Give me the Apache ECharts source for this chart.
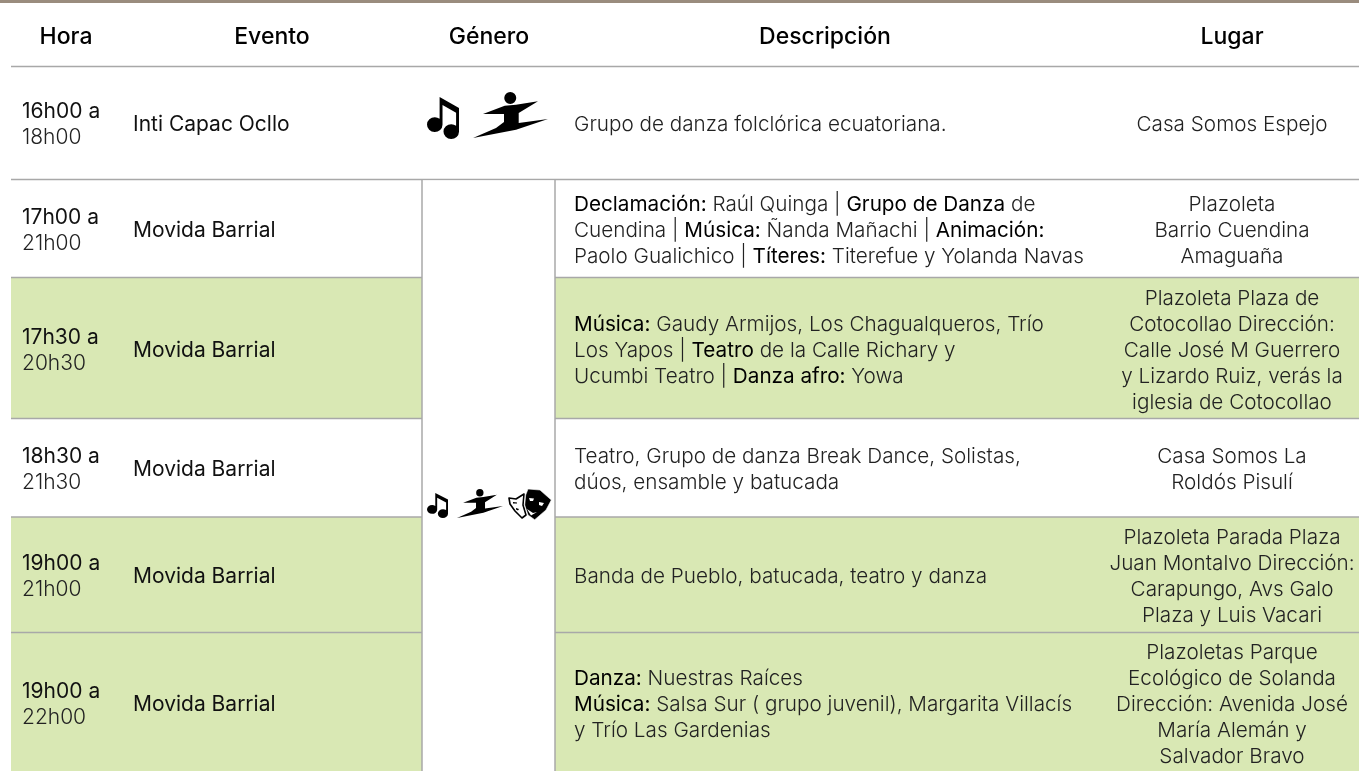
<!DOCTYPE html>
<html><head><meta charset="utf-8">
<script src="https://cdn.jsdelivr.net/npm/echarts@6/dist/echarts.min.js"></script>
<style>html,body{margin:0;padding:0;background:#fff}#c{width:1359px;height:771px}</style>
</head><body><div id="c"></div>
<script>
const headers = ['Hora','Evento','Género','Descripción','Lugar'];
const hourStart = ['16h00 a','17h00 a','17h30 a','18h30 a','19h00 a','19h00 a'];
const hourEnd = ['18h00','21h00','20h30','21h30','21h00','22h00'];
const events = ['Inti Capac Ocllo','Movida Barrial','Movida Barrial','Movida Barrial','Movida Barrial','Movida Barrial'];
const shaded = [0,0,1,0,1,1];
const descriptions = [
 ['Grupo de danza folclórica ecuatoriana.'],
 ['{b|Declamación:} Raúl Quinga | {b|Grupo de Danza} de','Cuendina | {b|Música:} Ñanda Mañachi | {b|Animación:}','Paolo Gualichico | {b|Títeres:} Titerefue y Yolanda Navas'],
 ['{b|Música:} Gaudy Armijos, Los Chagualqueros, Trío','Los Yapos | {b|Teatro} de la Calle Richary y','Ucumbi Teatro | {b|Danza afro:} Yowa'],
 ['Teatro, Grupo de danza Break Dance, Solistas,','dúos, ensamble y batucada'],
 ['Banda de Pueblo, batucada, teatro y danza'],
 ['{b|Danza:} Nuestras Raíces','{b|Música:} Salsa Sur ( grupo juvenil), Margarita Villacís','y Trío Las Gardenias']
];
const places = [
 ['Casa Somos Espejo'],
 ['Plazoleta','Barrio Cuendina','Amaguaña'],
 ['Plazoleta Plaza de','Cotocollao Dirección:','Calle José M Guerrero','y Lizardo Ruiz, verás la','iglesia de Cotocollao'],
 ['Casa Somos La','Roldós Pisulí'],
 ['Plazoleta Parada Plaza','Juan Montalvo Dirección:','Carapungo, Avs Galo','Plaza y Luis Vacari'],
 ['Plazoletas Parque','Ecológico de Solanda','Dirección: Avenida José','María Alemán y','Salvador Bravo']
];

// layout (pixel scale of the page)
const rowEdges = [66.5,179.5,277.5,418.5,517,632.5,771];
const textMid = [125,231,351,470,577,705];
const headerX = [66,272,489,825,1232];
const colLeft = 11, spanL = 422, spanR = 555;
const FONT = 'Inter', LH = 26;

const NOTE='M13 0L33 11V35a8 7.5 0 1 1-3-6V16L16 8V28a8 7.5 0 1 1-3-6z';
const DANCER='M37.3 0a6 6 0 1 1-.1 0zM10 22L31.7 13.7 43 12.7 65 9.3 45.7 21V31L75 27 43 37.7 0 46 23 36 31 30V22z';
const MASK_BACK=[[0,11],[7,12],[15,7],[14,18],[17,28],[13,31],[6,24],[1,17]];
const MASK_FRONT=[[19,2],[31,3],[42.3,13],[37,23],[25.7,32.7],[19,28],[15.7,18],[16.7,8]];
const MASK_HOLES=[[[20,11],[25,11.5],[24,14],[21,14]],[[30,15],[35,16],[33,19],[30,18]],[[18,22],[24,26],[28,25],[22,28.5]]];
const MASK_DASHES=[[[4,15],[8,15.5],[8,16.5],[4,16.5]],[[7,21],[10,22],[9,23.5],[7,22.5]]];

function textEl(x,y,t,extra){return {type:'text',style:Object.assign({x,y,text:t,font:'300 20.7px '+FONT,fill:'#222',verticalAlign:'middle',align:'left'},extra||{})};}
function centerLines(lines,mid,lh){return lines.map((l,i)=>mid+(i-(lines.length-1)/2)*lh);}

function render(params,api){
  const px=(x,y)=>api.coord([x,y]);
  const ch=[];
  const i=api.value(0);
  if(i===-1){
    let p=px(0,0),q=px(1359,3);
    ch.push({type:'rect',shape:{x:p[0],y:p[1],width:q[0]-p[0],height:q[1]-p[1]},style:{fill:'#9a8c7e'}});
    headers.forEach((h,k)=>{const a=px(headerX[k],37.5);ch.push(textEl(a[0],a[1],h,{align:'center',font:'500 23px '+FONT,fill:'#000'}));});
    return {type:'group',children:ch};
  }
  const top=rowEdges[i],bot=rowEdges[i+1],mid=textMid[i];
  if(shaded[i]){
    [[colLeft,spanL],[spanR,1359]].forEach(r=>{const a=px(r[0],top),b=px(r[1],bot);
      ch.push({type:'rect',shape:{x:a[0],y:a[1],width:b[0]-a[0],height:b[1]-a[1]},style:{fill:'#d9e8b4'}});});
  }
  const a=px(22,mid-13),b=px(22,mid+13);
  ch.push(textEl(a[0],a[1],hourStart[i],{font:'400 21px '+FONT,fill:'#111'}));
  ch.push(textEl(b[0],b[1],hourEnd[i],{font:'300 21px '+FONT}));
  const e=px(133,mid);
  ch.push(textEl(e[0],e[1],events[i],{font:'400 21px '+FONT,fill:'#111'}));
  const dy=centerLines(descriptions[i],mid,26);
  descriptions[i].forEach((l,k)=>{const d=px(574,dy[k]);
    ch.push(textEl(d[0],d[1],l,{rich:{b:{font:'400 20.7px '+FONT,fill:'#000'}}}));});
  const py=centerLines(places[i],mid,26);
  places[i].forEach((l,k)=>{const d=px(1232,py[k]);ch.push(textEl(d[0],d[1],l,{align:'center'}));});
  const l=px(colLeft,top),r=px(1359,top);
  ch.push({type:'line',shape:{x1:l[0],y1:l[1],x2:r[0],y2:r[1]},style:{stroke:'#a8a8a8',lineWidth:1.5}});
  return {type:'group',children:ch};
}
function renderSpan(params,api){
  const ch=[];
  const t=api.coord([0,rowEdges[1]+1]),b=api.coord([0,771]);
  const xl=api.coord([spanL,0])[0],xr=api.coord([spanR,0])[0];
  ch.push({type:'rect',shape:{x:xl,y:t[1],width:xr-xl,height:b[1]-t[1]},style:{fill:'#fff'}});
  ch.push({type:'line',shape:{x1:xl,y1:t[1]-1,x2:xl,y2:b[1]},style:{stroke:'#a8a8a8',lineWidth:1.5}});
  ch.push({type:'line',shape:{x1:xr,y1:t[1]-1,x2:xr,y2:b[1]},style:{stroke:'#a8a8a8',lineWidth:1.5}});
  const icon=(d,x,y,w,h)=>{const p=api.coord([x,y]);return {type:'path',shape:{pathData:d,x:p[0],y:p[1],width:w,height:h,layout:'cover'},style:{fill:'#000'}};};
  const poly=(pts,ox,oy,style)=>({type:'polygon',shape:{points:pts.map(q=>api.coord([ox+q[0],oy+q[1]]))},style});
  ch.push(icon(NOTE,427,97,32,42));
  ch.push(icon(DANCER,473,92,75,46));
  ch.push(icon(NOTE,427,493,21,25));
  ch.push(icon(DANCER,457,489,46,29));
  ch.push(poly(MASK_BACK,509,487,{fill:'#fff',stroke:'#000',lineWidth:1.6,lineJoin:'round'}));
  MASK_DASHES.forEach(m=>ch.push(poly(m,509,487,{fill:'#000'})));
  ch.push(poly(MASK_FRONT,509,487,{fill:'#000',stroke:'#fff',lineWidth:0.6}));
  MASK_HOLES.forEach(m=>ch.push(poly(m,509,487,{fill:'#fff'})));
  return {type:'group',children:ch};
}
const chart=echarts.init(document.getElementById('c'),null,{renderer:'canvas'});
chart.setOption({
  animation:false,
  grid:{left:0,right:0,top:0,bottom:0},
  xAxis:{type:'value',min:0,max:1359,show:false},
  yAxis:{type:'value',min:0,max:771,inverse:true,show:false},
  series:[
   {type:'custom',renderItem:render,data:[[-1]].concat(hourStart.map((_,i)=>[i])),silent:true,clip:false,z:1},
   {type:'custom',renderItem:renderSpan,data:[[0]],silent:true,z:2}
  ]
});
</script></body></html>
